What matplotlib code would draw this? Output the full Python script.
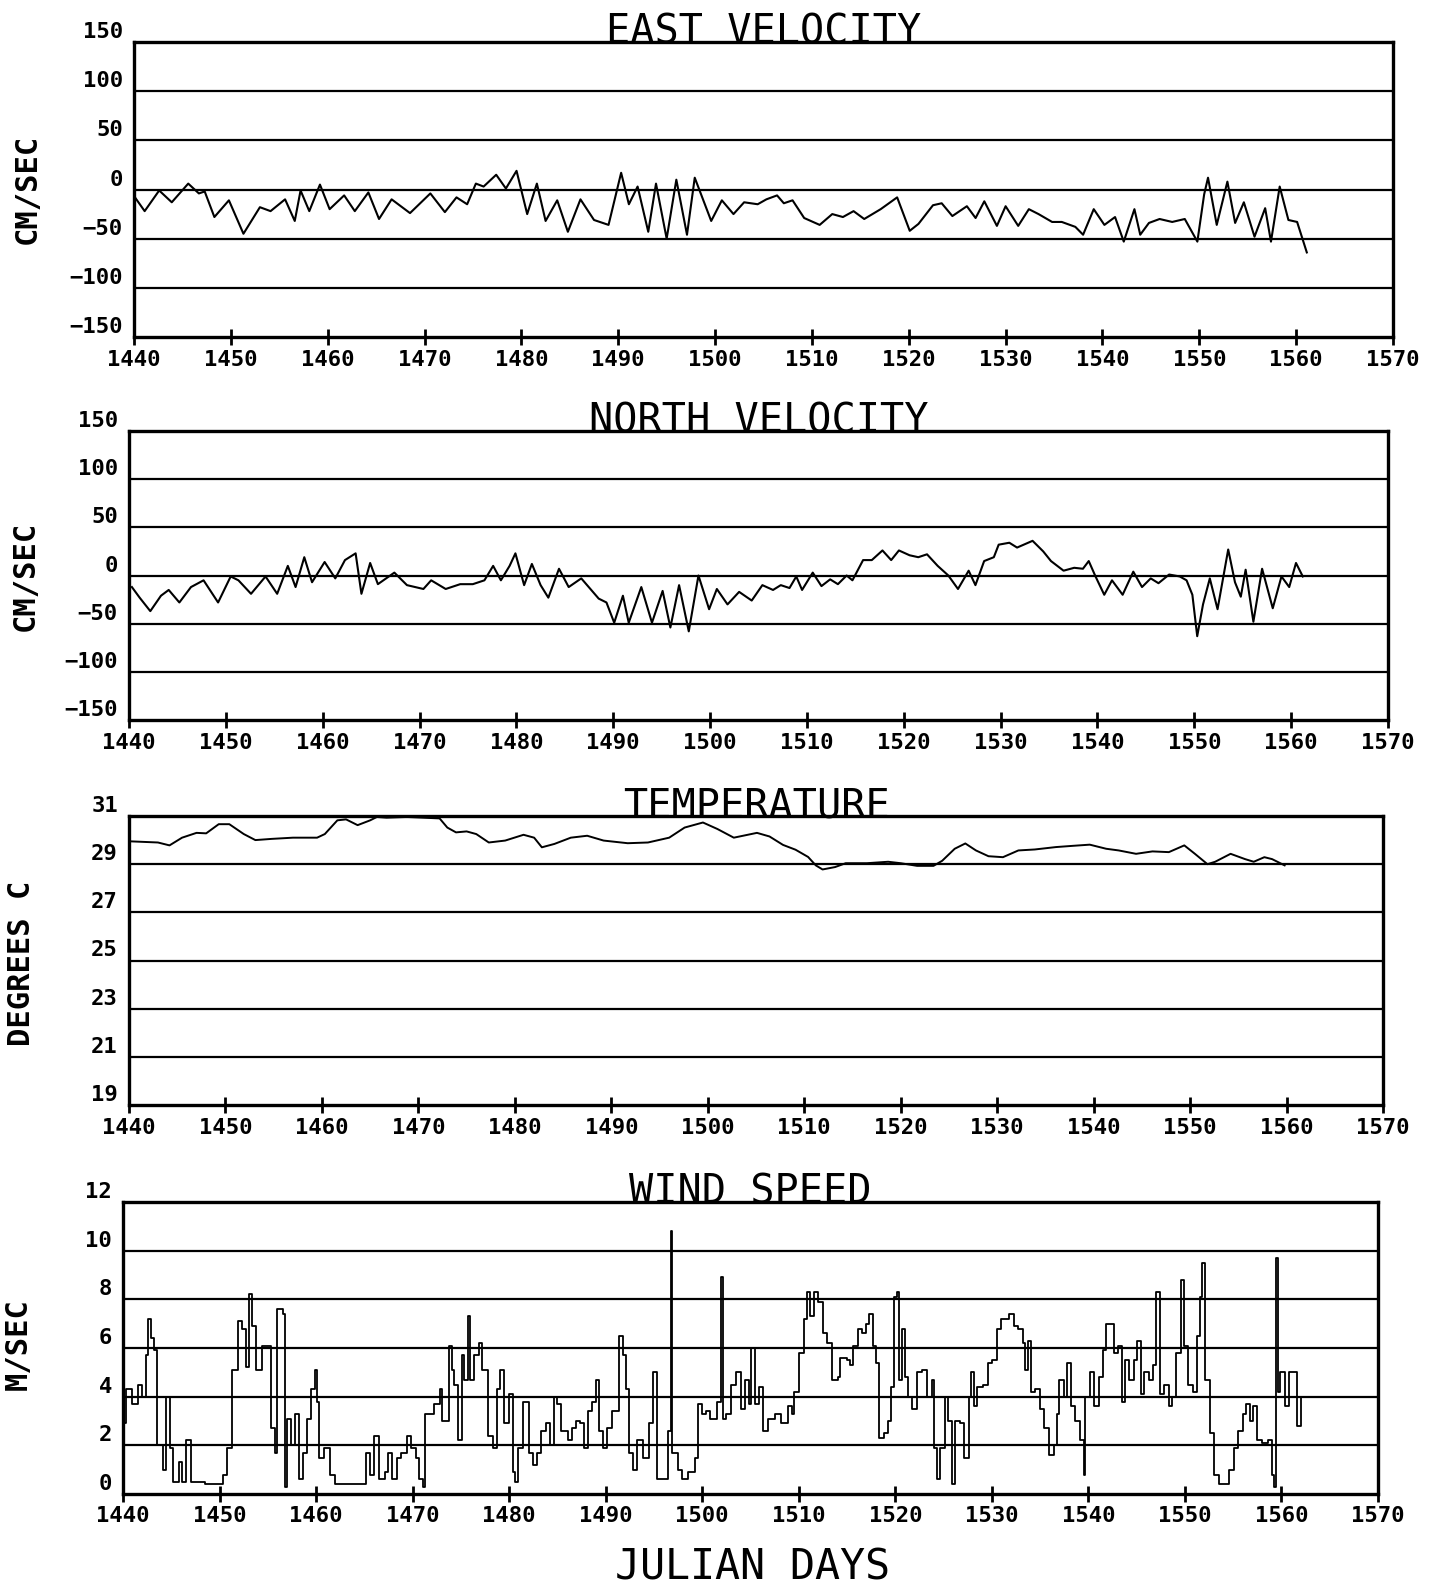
import matplotlib
matplotlib.use("Agg")
import matplotlib.pyplot as plt

plt.rcParams['font.family'] = 'DejaVu Sans Mono'

days_ticks = list(range(1440, 1571, 10))

# east velocity (cm/sec)
east_day = [1440.1, 1441.1, 1442.6, 1443.9, 1445.6, 1446.7, 1447.3, 1448.3, 1449.8, 1451.3,
            1453.0, 1454.1, 1455.6, 1456.6, 1457.2, 1458.1, 1459.2, 1460.2, 1461.7, 1462.8,
            1464.2, 1465.3, 1466.6, 1468.5, 1470.6, 1472.1, 1473.3, 1474.4, 1475.3, 1476.1,
            1477.4, 1478.4, 1479.5, 1480.6, 1481.6, 1482.5, 1483.7, 1484.8, 1486.1, 1487.5,
            1489.0, 1490.3, 1491.1, 1492.0, 1493.1, 1493.9, 1495.0, 1496.0, 1497.1, 1497.9,
            1499.6, 1500.7, 1501.9, 1503.0, 1504.4, 1505.3, 1506.4, 1507.1, 1508.0, 1509.2,
            1510.8, 1512.1, 1513.2, 1514.3, 1515.4, 1517.1, 1518.8, 1520.1, 1521.0, 1522.5,
            1523.4, 1524.5, 1526.0, 1526.9, 1527.8, 1529.1, 1530.0, 1531.3, 1532.4, 1533.4,
            1534.8, 1535.8, 1537.2, 1538.0, 1539.1, 1540.2, 1541.3, 1542.2, 1543.3, 1543.9,
            1544.8, 1545.9, 1547.2, 1548.5, 1549.8, 1550.5, 1550.9, 1551.8, 1552.9, 1553.7,
            1554.6, 1555.7, 1556.8, 1557.4, 1558.3, 1559.2, 1560.1, 1561.1]
east_vel = [-8, -22, -1, -13, 6, -4, -2, -28, -11, -45,
            -18, -22, -10, -32, -1, -22, 5, -20, -6, -22,
            -3, -30, -10, -24, -4, -23, -8, -15, 6, 3,
            15, 1, 19, -25, 6, -32, -11, -43, -10, -31,
            -36, 17, -15, 3, -43, 6, -50, 10, -46, 12,
            -32, -11, -25, -13, -15, -10, -6, -14, -11, -29,
            -36, -25, -28, -22, -30, -20, -8, -42, -35, -16,
            -14, -27, -17, -29, -12, -37, -17, -37, -20, -25,
            -33, -33, -38, -46, -20, -36, -28, -53, -20, -46,
            -34, -30, -33, -30, -53, -5, 12, -36, 8, -34,
            -13, -48, -19, -53, 3, -31, -33, -64]

# north velocity (cm/sec)
north_day = [1440.3, 1441.1, 1442.2, 1443.3, 1444.1, 1445.2, 1446.4, 1447.7, 1449.2, 1450.5,
             1451.3, 1452.6, 1454.1, 1455.3, 1456.4, 1457.2, 1458.1, 1458.9, 1460.2, 1461.3,
             1462.3, 1463.4, 1464.0, 1464.9, 1465.7, 1467.4, 1468.7, 1470.4, 1471.2, 1472.7,
             1474.2, 1475.5, 1476.7, 1477.6, 1478.4, 1479.3, 1479.9, 1480.8, 1481.6, 1482.5,
             1483.3, 1484.4, 1485.4, 1486.7, 1488.5, 1489.3, 1490.1, 1491.0, 1491.6, 1492.9,
             1494.0, 1495.1, 1495.9, 1496.8, 1497.8, 1498.8, 1499.9, 1500.7, 1501.8, 1503.0,
             1504.3, 1505.4, 1506.5, 1507.3, 1508.2, 1508.9, 1509.5, 1510.6, 1511.5, 1512.4,
             1513.2, 1514.1, 1514.7, 1515.8, 1516.7, 1517.8, 1518.7, 1519.5, 1520.6, 1521.5,
             1522.4, 1523.5, 1524.6, 1525.6, 1526.7, 1527.4, 1528.3, 1529.3, 1529.8, 1530.9,
             1531.7, 1533.3, 1534.4, 1535.2, 1536.5, 1537.6, 1538.5, 1539.1, 1539.8, 1540.7,
             1541.5, 1542.6, 1543.7, 1544.6, 1545.5, 1546.3, 1547.4, 1548.5, 1549.2, 1549.8,
             1550.3, 1550.9, 1551.6, 1552.4, 1553.5, 1554.2, 1554.8, 1555.3, 1556.1, 1557.0,
             1558.1, 1559.0, 1559.8, 1560.5, 1561.2]
north_vel = [-12, -23, -37, -21, -15, -28, -12, -5, -28, -1,
             -5, -19, -1, -19, 10, -12, 19, -7, 14, -3,
             16, 23, -19, 13, -9, 3, -10, -14, -5, -14,
             -9, -9, -5, 10, -5, 10, 23, -10, 12, -10,
             -23, 7, -12, -3, -24, -28, -49, -21, -49, -12,
             -49, -16, -54, -10, -58, 0, -35, -14, -30, -17,
             -26, -10, -15, -10, -13, -1, -15, 3, -11, -4,
             -9, 0, -5, 16, 16, 26, 16, 26, 21, 19,
             22, 10, 0, -14, 5, -10, 15, 19, 32, 34,
             29, 36, 25, 15, 5, 8, 7, 15, -1, -20,
             -5, -20, 4, -12, -3, -8, 1, -1, -5, -20,
             -63, -30, -3, -35, 27, -7, -22, 6, -48, 7,
             -34, -1, -12, 13, -1]

# temperature (degrees C)
temp_day = [1440.0, 1443.0, 1444.2, 1445.5, 1447.0, 1448.0, 1449.3, 1450.4, 1451.9, 1453.1,
            1454.8, 1457.0, 1459.5, 1460.3, 1461.6, 1462.5, 1463.7, 1465.0, 1465.7, 1466.7,
            1468.8, 1472.2, 1473.0, 1473.9, 1475.0, 1476.0, 1477.3, 1479.0, 1480.9, 1482.0,
            1482.8, 1484.1, 1485.8, 1487.5, 1489.2, 1491.7, 1493.8, 1496.0, 1497.6, 1499.5,
            1501.0, 1502.7, 1505.1, 1506.4, 1507.8, 1509.1, 1510.4, 1511.2, 1511.9, 1513.2,
            1514.3, 1516.5, 1518.7, 1520.0, 1521.7, 1523.4, 1524.3, 1525.6, 1526.7, 1527.8,
            1529.1, 1530.6, 1532.2, 1533.9, 1536.1, 1537.8, 1539.6, 1541.3, 1542.6, 1544.4,
            1546.1, 1547.8, 1549.4, 1550.5, 1551.8, 1552.6, 1554.2, 1555.7, 1556.6, 1557.7,
            1558.5, 1559.8]
temp_val = [29.95, 29.9, 29.78, 30.1, 30.3, 30.28, 30.66, 30.66, 30.25, 30.0,
            30.05, 30.1, 30.1, 30.25, 30.82, 30.86, 30.62, 30.82, 30.96, 30.93,
            30.96, 30.9, 30.52, 30.32, 30.36, 30.25, 29.9, 29.98, 30.22, 30.1,
            29.7, 29.84, 30.1, 30.18, 29.98, 29.87, 29.9, 30.1, 30.52, 30.73,
            30.46, 30.1, 30.3, 30.15, 29.8, 29.6, 29.3, 28.95, 28.78, 28.88,
            29.04, 29.04, 29.1, 29.04, 28.93, 28.93, 29.14, 29.64, 29.86, 29.57,
            29.33, 29.29, 29.57, 29.61, 29.71, 29.76, 29.81, 29.64, 29.57, 29.43,
            29.53, 29.5, 29.78, 29.43, 29.0, 29.1, 29.43, 29.21, 29.1, 29.29,
            29.21, 28.95]

# wind speed (m/sec)
wind_day = [1440.0, 1440.3, 1440.9, 1441.6, 1442.0, 1442.4, 1442.6, 1442.9, 1443.2, 1443.5,
            1444.1, 1444.5, 1444.7, 1444.9, 1445.2, 1445.8, 1446.1, 1446.5, 1447.0, 1448.5,
            1449.8, 1450.4, 1450.8, 1451.3, 1451.9, 1452.3, 1452.7, 1453.0, 1453.4, 1453.8,
            1454.4, 1454.9, 1455.3, 1455.7, 1456.0, 1456.6, 1456.8, 1457.0, 1457.4, 1457.8,
            1458.2, 1458.6, 1459.1, 1459.5, 1459.9, 1460.1, 1460.3, 1460.8, 1461.4, 1462.0,
            1463.7, 1465.0, 1465.2, 1465.6, 1466.0, 1466.5, 1467.1, 1467.5, 1467.9, 1468.4,
            1468.8, 1469.4, 1469.8, 1470.3, 1470.7, 1471.1, 1471.3, 1472.2, 1472.8, 1473.0,
            1473.4, 1473.8, 1474.1, 1474.3, 1474.7, 1475.1, 1475.3, 1475.7, 1475.9, 1476.4,
            1476.9, 1477.2, 1477.8, 1478.3, 1478.7, 1479.1, 1479.5, 1480.0, 1480.4, 1480.6,
            1480.9, 1481.4, 1482.1, 1482.5, 1482.9, 1483.3, 1483.8, 1484.2, 1484.6, 1485.0,
            1485.4, 1486.1, 1486.5, 1486.9, 1487.3, 1487.8, 1488.2, 1488.6, 1489.0, 1489.3,
            1489.7, 1490.1, 1490.7, 1491.4, 1491.8, 1492.1, 1492.4, 1492.8, 1493.2, 1493.9,
            1494.5, 1494.9, 1495.3, 1496.0, 1496.5, 1496.8, 1496.9, 1497.5, 1497.9, 1498.5,
            1499.2, 1499.6, 1500.0, 1500.4, 1500.8, 1501.5, 1501.9, 1502.1, 1502.5, 1503.0,
            1503.5, 1504.0, 1504.4, 1504.8, 1505.0, 1505.5, 1505.9, 1506.3, 1506.8, 1507.5,
            1508.2, 1508.9, 1509.3, 1509.5, 1510.0, 1510.5, 1510.9, 1511.2, 1511.6, 1512.0,
            1512.5, 1512.9, 1513.4, 1514.1, 1514.3, 1515.0, 1515.3, 1515.6, 1516.1, 1516.5,
            1517.0, 1517.3, 1517.7, 1518.0, 1518.3, 1518.8, 1519.2, 1519.6, 1519.9, 1520.2,
            1520.4, 1520.7, 1521.0, 1521.3, 1521.7, 1522.2, 1522.8, 1523.3, 1523.8, 1524.0,
            1524.3, 1524.6, 1525.1, 1525.5, 1525.9, 1526.2, 1526.7, 1527.1, 1527.6, 1527.8,
            1528.2, 1528.5, 1529.1, 1529.6, 1530.0, 1530.5, 1530.9, 1531.8, 1532.3, 1532.7,
            1533.2, 1533.4, 1533.7, 1534.1, 1534.5, 1535.0, 1535.4, 1535.9, 1536.4, 1536.8,
            1537.0, 1537.5, 1537.8, 1538.2, 1538.6, 1539.1, 1539.5, 1539.7, 1540.2, 1540.6,
            1541.1, 1541.5, 1541.8, 1542.4, 1542.7, 1543.1, 1543.5, 1543.8, 1544.2, 1544.7,
            1545.0, 1545.4, 1545.8, 1546.3, 1546.7, 1547.0, 1547.4, 1547.8, 1548.3, 1548.7,
            1549.1, 1549.6, 1549.9, 1550.3, 1550.8, 1551.2, 1551.6, 1551.8, 1552.1, 1552.6,
            1553.0, 1553.5, 1554.2, 1554.6, 1555.1, 1555.5, 1556.0, 1556.3, 1556.7, 1557.1,
            1557.5, 1558.0, 1558.6, 1559.0, 1559.2, 1559.4, 1559.6, 1559.9, 1560.4, 1560.8,
            1561.3, 1561.6, 1562.0]
wind_val = [2.9, 4.3, 3.7, 4.5, 4.0, 5.7, 7.2, 6.4, 5.9, 2.0,
            1.0, 4.0, 4.0, 1.9, 0.5, 1.3, 0.5, 2.2, 0.5, 0.4,
            0.4, 0.8, 1.9, 5.1, 7.1, 6.8, 5.2, 8.2, 6.9, 5.1,
            6.1, 6.1, 2.7, 1.7, 7.6, 7.4, 0.3, 3.1, 2.0, 3.3,
            0.6, 1.7, 3.1, 4.3, 5.1, 3.8, 1.5, 1.9, 0.8, 0.4,
            0.4, 0.4, 1.7, 0.8, 2.4, 0.6, 0.9, 1.7, 0.6, 1.5,
            1.7, 2.4, 1.9, 1.5, 0.6, 0.3, 3.3, 3.7, 4.3, 3.0,
            3.0, 6.1, 5.1, 4.5, 2.2, 5.7, 4.7, 7.3, 4.7, 5.7,
            6.2, 5.1, 2.4, 1.9, 4.3, 5.1, 2.9, 4.1, 0.9, 0.5,
            1.9, 3.8, 1.7, 1.2, 1.7, 2.6, 2.9, 2.0, 4.0, 3.7,
            2.6, 2.2, 2.7, 3.0, 2.9, 1.9, 3.4, 3.8, 4.7, 2.6,
            1.9, 2.7, 3.4, 6.5, 5.7, 4.3, 1.7, 1.0, 2.2, 1.5,
            2.9, 5.0, 0.6, 0.6, 2.6, 10.8, 1.7, 1.0, 0.6, 0.9,
            1.5, 3.7, 3.3, 3.4, 3.1, 3.8, 8.9, 3.1, 3.3, 4.5,
            5.0, 3.5, 4.7, 3.7, 6.0, 3.7, 4.4, 2.6, 3.1, 3.3,
            2.9, 3.6, 3.3, 4.2, 5.8, 7.2, 8.3, 7.3, 8.3, 7.9,
            6.6, 6.2, 4.7, 4.8, 5.6, 5.5, 5.3, 6.1, 6.8, 6.6,
            7.0, 7.4, 6.1, 5.4, 2.3, 2.5, 3.0, 4.4, 8.1, 8.3,
            4.7, 6.8, 4.8, 4.0, 3.5, 5.0, 5.1, 4.0, 4.7, 1.9,
            0.6, 1.9, 4.0, 3.0, 0.4, 3.0, 2.9, 1.5, 4.0, 5.0,
            3.6, 4.4, 4.5, 5.4, 5.5, 6.8, 7.2, 7.4, 6.9, 6.8,
            6.2, 5.1, 6.3, 4.2, 4.3, 3.5, 2.7, 1.6, 2.0, 3.3,
            4.7, 4.0, 5.4, 3.6, 3.0, 2.2, 0.8, 4.0, 5.0, 3.6,
            4.8, 5.9, 7.0, 7.0, 5.8, 6.1, 3.8, 5.5, 4.7, 5.5,
            6.3, 4.1, 5.0, 4.7, 5.3, 8.3, 4.1, 4.5, 3.6, 4.0,
            5.8, 8.8, 6.1, 4.5, 4.2, 6.5, 8.1, 9.5, 4.7, 2.5,
            0.8, 0.4, 0.4, 1.0, 1.9, 2.6, 3.3, 3.7, 3.0, 3.6,
            2.2, 2.1, 2.2, 0.8, 0.3, 9.7, 4.2, 5.0, 3.6, 5.0,
            5.0, 2.8, 4.0]

W, H = 1431, 1585
fig = plt.figure(figsize=(W / 100, H / 100), dpi=100)


def make_axes(left, right, top, bottom):
    return fig.add_axes([left / W, 1 - bottom / H, (right - left) / W, (bottom - top) / H])


def style(ax, title, yticks, ylim):
    ax.set_xlim(1440, 1570)
    ax.set_ylim(*ylim)
    ax.set_xticks(days_ticks)
    ax.set_yticks(yticks)
    for y in yticks[1:-1]:
        ax.axhline(y, color='black', lw=1.6, zorder=1)
    for s in ax.spines.values():
        s.set_linewidth(2.4)
    ax.tick_params(axis='x', direction='inout', length=12, width=2, pad=3, labelsize=16)
    ax.tick_params(axis='y', length=0, pad=8, labelsize=16)
    for lab in ax.get_xticklabels() + ax.get_yticklabels():
        lab.set_fontweight('bold')
    for lab in ax.get_yticklabels():
        lab.set_verticalalignment('bottom')
    ax.text(0.5, 0.996, title, transform=ax.transAxes, ha='center', va='baseline',
            fontsize=29, color='black')


ax1 = make_axes(134, 1393, 42, 337)
ax1.plot(east_day, east_vel, color='black', lw=1.5, zorder=2)
style(ax1, 'EAST VELOCITY', [-150, -100, -50, 0, 50, 100, 150], (-150, 150))

ax2 = make_axes(129, 1388, 431, 720)
ax2.plot(north_day, north_vel, color='black', lw=1.5, zorder=2)
style(ax2, 'NORTH VELOCITY', [-150, -100, -50, 0, 50, 100, 150], (-150, 150))

ax3 = make_axes(129, 1383, 816, 1105)
ax3.plot(temp_day, temp_val, color='black', lw=1.4, zorder=2)
style(ax3, 'TEMPERATURE', [19, 21, 23, 25, 27, 29, 31], (19, 31))

ax4 = make_axes(123, 1378, 1202, 1494)
ax4.plot(wind_day, wind_val, color='black', lw=1.3, drawstyle='steps-post', zorder=2)
style(ax4, 'WIND SPEED', [0, 2, 4, 6, 8, 10, 12], (0, 12))

ylab = dict(rotation=90, ha='center', va='center', fontsize=22, fontweight='bold')
fig.text(27 / W, 1 - 189 / H, 'CM/SEC', **ylab)
fig.text(25 / W, 1 - 576 / H, 'CM/SEC', **ylab)
fig.text(22 / W, 1 - 963 / H, 'DEGREES C', **ylab)
fig.text(18 / W, 1 - 1344 / H, 'M/SEC', **ylab)
fig.text(753 / W, 1 - 1567 / H, 'JULIAN DAYS', ha='center', va='center', fontsize=30)

fig.savefig('out.png', dpi=100, facecolor='white')
